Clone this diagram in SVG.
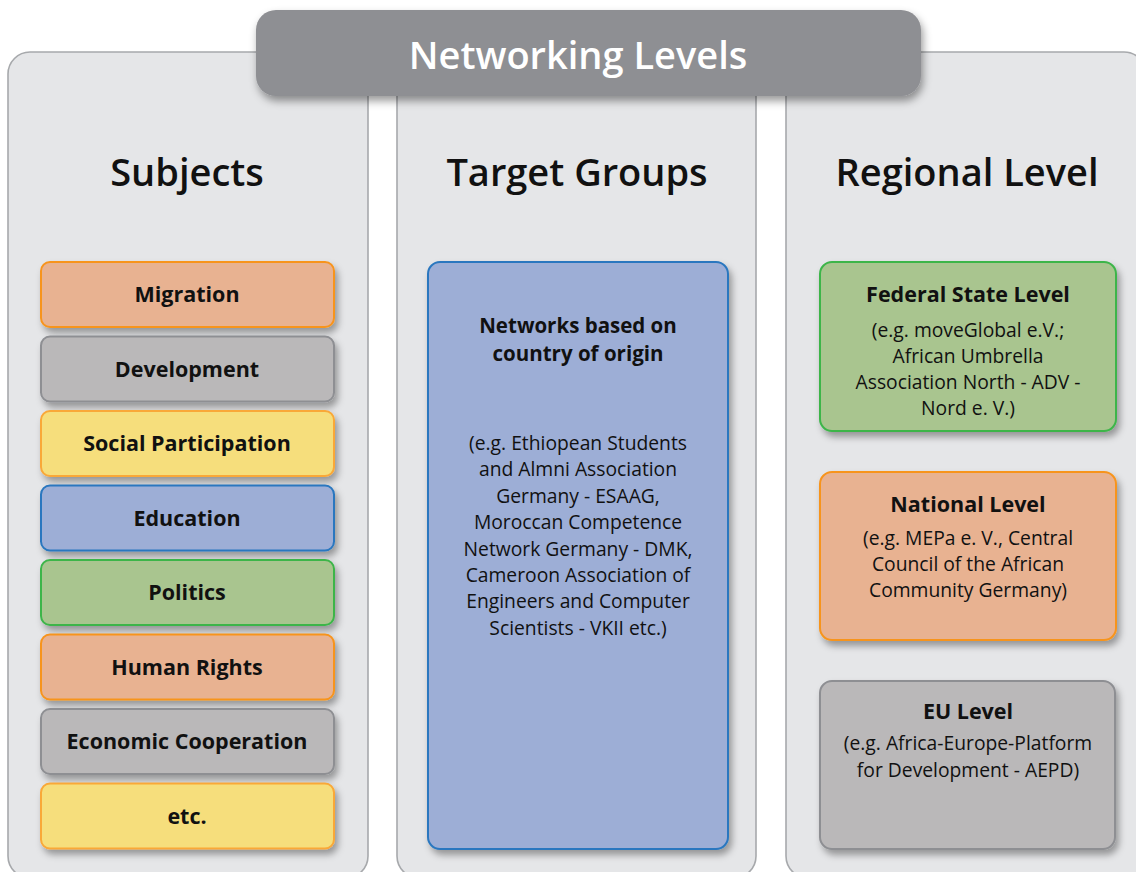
<svg xmlns="http://www.w3.org/2000/svg" width="1136" height="872" viewBox="0 0 1136 872">
<defs>
<filter id="sh" x="-20%" y="-20%" width="140%" height="150%">
<feDropShadow dx="3" dy="5" stdDeviation="3.5" flood-color="#000" flood-opacity="0.35"/>
</filter>
<filter id="shh" x="-10%" y="-20%" width="120%" height="160%">
<feDropShadow dx="2" dy="5" stdDeviation="4" flood-color="#000" flood-opacity="0.4"/>
</filter>
</defs>
<style>
text{font-family:"Open Sans","Noto Sans","Liberation Sans",sans-serif;fill:#111;text-anchor:middle}
.panel{fill:#e5e6e8;stroke:#a7a9ac;stroke-width:1.6}
.col{font-size:38px;font-weight:600}
.lbl{font-size:21.5px;font-weight:700}
.body{font-size:19.3px;font-weight:400}
.box{stroke-width:2}
.org{fill:#e8b291;stroke:#f7941d}
.gry{fill:#bab8b9;stroke:#8e8f93}
.yel{fill:#f6de7b;stroke:#f9a838}
.blu{fill:#9daed6;stroke:#2a77bf}
.grn{fill:#a9c58f;stroke:#3db54a}
</style>
<g id="panel-subjects"><rect class="panel" x="8" y="52" width="360" height="826" rx="22"/></g>
<g id="panel-target"><rect class="panel" x="397" y="52" width="359" height="826" rx="22"/></g>
<g id="panel-regional"><rect class="panel" x="786" y="52" width="360" height="826" rx="22"/></g>
<g id="header">
<rect x="256" y="10" width="665" height="86" rx="20" fill="#8e8f93" filter="url(#shh)"/>
<text x="578" y="69" style="font-size:38px;font-weight:600;fill:#fff">Networking Levels</text>
</g>
<g id="headings">
<text class="col" x="187" y="186">Subjects</text>
<text class="col" x="577" y="186">Target Groups</text>
<text class="col" x="967" y="186">Regional Level</text>
</g>
<g id="subj-migration"><rect class="box org" x="41" y="262" width="293" height="65" rx="9" filter="url(#sh)"/><text class="lbl" x="187" y="302">Migration</text></g>
<g id="subj-development"><rect class="box gry" x="41" y="336.5" width="293" height="65" rx="9" filter="url(#sh)"/><text class="lbl" x="187" y="376.5">Development</text></g>
<g id="subj-social"><rect class="box yel" x="41" y="411" width="293" height="65" rx="9" filter="url(#sh)"/><text class="lbl" x="187" y="451">Social Participation</text></g>
<g id="subj-education"><rect class="box blu" x="41" y="485.5" width="293" height="65" rx="9" filter="url(#sh)"/><text class="lbl" x="187" y="525.5">Education</text></g>
<g id="subj-politics"><rect class="box grn" x="41" y="560" width="293" height="65" rx="9" filter="url(#sh)"/><text class="lbl" x="187" y="600">Politics</text></g>
<g id="subj-human"><rect class="box org" x="41" y="634.5" width="293" height="65" rx="9" filter="url(#sh)"/><text class="lbl" x="187" y="674.5">Human Rights</text></g>
<g id="subj-economic"><rect class="box gry" x="41" y="709" width="293" height="65" rx="9" filter="url(#sh)"/><text class="lbl" x="187" y="749">Economic Cooperation</text></g>
<g id="subj-etc"><rect class="box yel" x="41" y="783.5" width="293" height="65" rx="9" filter="url(#sh)"/><text class="lbl" x="187" y="823.5">etc.</text></g>
<g id="target-networks">
<rect class="box blu" x="428" y="262" width="300" height="587" rx="12" filter="url(#sh)"/>
<text class="lbl" x="578" y="332.5" style="font-size:20.5px">Networks based on</text>
<text class="lbl" x="578" y="361" style="font-size:20.5px">country of origin</text>
<text class="body"><tspan x="578" y="450">(e.g. Ethiopean Students</tspan><tspan x="578" y="476.4">and Almni Association</tspan><tspan x="578" y="502.8">Germany - ESAAG,</tspan><tspan x="578" y="529.2">Moroccan Competence</tspan><tspan x="578" y="555.6">Network Germany - DMK,</tspan><tspan x="578" y="582">Cameroon Association of</tspan><tspan x="578" y="608.4">Engineers and Computer</tspan><tspan x="578" y="634.8">Scientists - VKII etc.)</tspan></text>
</g>
<g id="region-federal">
<rect class="box grn" x="820" y="262" width="296" height="169" rx="12" filter="url(#sh)"/>
<text class="lbl" x="968" y="302">Federal State Level</text>
<text class="body"><tspan x="968" y="337">(e.g. moveGlobal e.V.;</tspan><tspan x="968" y="363">African Umbrella</tspan><tspan x="968" y="389">Association North - ADV -</tspan><tspan x="968" y="415">Nord e. V.)</tspan></text>
</g>
<g id="region-national">
<rect class="box org" x="820" y="472" width="296" height="168" rx="12" filter="url(#sh)"/>
<text class="lbl" x="968" y="512">National Level</text>
<text class="body"><tspan x="968" y="545">(e.g. MEPa e. V., Central</tspan><tspan x="968" y="571">Council of the African</tspan><tspan x="968" y="597">Community Germany)</tspan></text>
</g>
<g id="region-eu">
<rect class="box gry" x="820" y="681" width="295" height="168" rx="12" filter="url(#sh)"/>
<text class="lbl" x="968" y="719">EU Level</text>
<text class="body"><tspan x="968" y="750">(e.g. Africa-Europe-Platform</tspan><tspan x="968" y="777">for Development - AEPD)</tspan></text>
</g>
<g id="connectors"></g>
</svg>
